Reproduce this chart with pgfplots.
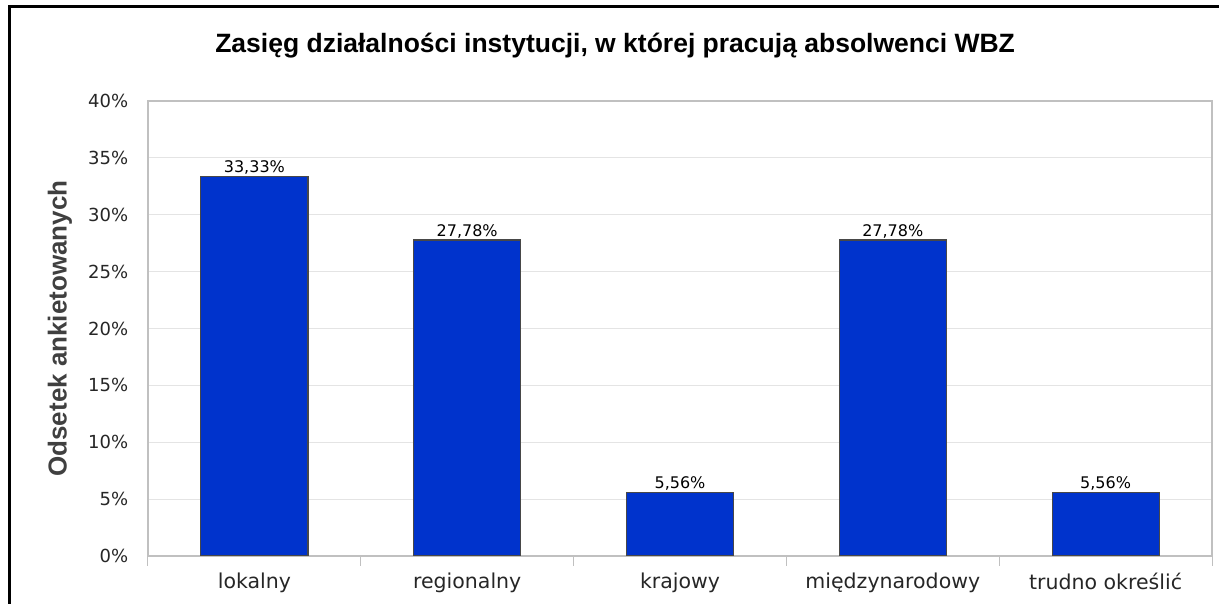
\documentclass[border=0pt]{standalone}
\usepackage{pgfplots}
\pgfplotsset{compat=1.18}
\usepackage{fontspec}
\setmainfont{DejaVu Sans}
\newfontfamily\titlefont{Liberation Sans}
\definecolor{barblue}{RGB}{0,51,204}
\definecolor{baredge}{RGB}{72,72,72}
\definecolor{axisgray}{RGB}{192,192,192}
\definecolor{gridgray}{RGB}{228,228,228}

\begin{document}
\begin{tikzpicture}[x=1pt,y=1pt]
  \path[use as bounding box] (0,0) rectangle (1219,604);
  \draw[black, line width=3pt] (9.5,0) -- (9.5,597.5) -- (1219,597.5);
  \begin{axis}[
    at={(148pt,48pt)}, anchor=south west,
    scale only axis, width=1064pt, height=455pt,
    ybar, bar width=107pt,
    xmin=-0.5, xmax=4.5, ymin=0, ymax=40,
    xtick={0,1,2,3,4},
    xticklabels={lokalny,regionalny,krajowy,międzynarodowy,trudno określić},
    minor xtick={-0.5,0.5,1.5,2.5,3.5,4.5},
    major x tick style={draw=none},
    minor x tick style={axisgray, line width=1pt},
    minor tick length=10pt,
    xtick pos=bottom, tick align=outside,
    ytick={0,5,...,40},
    yticklabels={0\%,5\%,10\%,15\%,20\%,25\%,30\%,35\%,40\%},
    ytick style={draw=none},
    ymajorgrids, grid style={gridgray, line width=1pt},
    axis line style={axisgray, line width=1.2pt},
    tick label style={font=\fontsize{18}{20}\selectfont, text=black!85},
    yticklabel style={xshift=-12pt},
    xticklabel style={font=\fontsize{20.5}{22}\selectfont, yshift=-9pt},
    title={Zasięg działalności instytucji, w której pracują absolwenci WBZ},
    title style={font=\titlefont\bfseries\fontsize{26.5}{28}\selectfont, at={(axis description cs:0.439,1.108)}, anchor=center},
    ylabel={Odsetek ankietowanych},
    ylabel style={font=\titlefont\bfseries\fontsize{26}{28}\selectfont, text=black!75, at={(axis description cs:-0.0827,0.5)}, anchor=center},
    nodes near coords={\pgfmathprintnumber[fixed,fixed zerofill,precision=2,use comma]{\pgfplotspointmeta}\%},
    nodes near coords style={font=\fontsize{16}{18}\selectfont, inner sep=1.5pt},
    /pgf/number format/assume math mode=true,
  ]
    \addplot[fill=barblue, draw=baredge, line width=1.2pt] coordinates {
      (0,33.33) (1,27.78) (2,5.56) (3,27.78) (4,5.56)};
  \end{axis}
\end{tikzpicture}
\end{document}
